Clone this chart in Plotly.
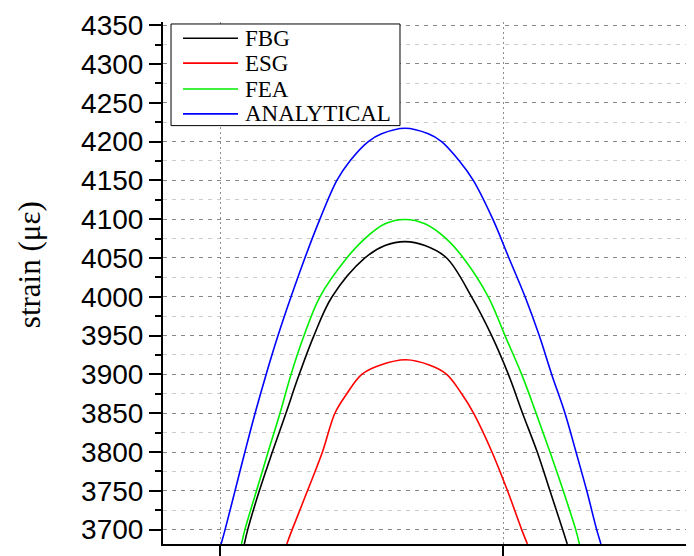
import plotly.graph_objects as go

# ---- data (x in tick units: the two x ticks are 1 and 2) ----
fbg_x = [1.086, 1.098, 1.139, 1.185, 1.233, 1.275, 1.332, 1.396, 1.512, 1.583, 1.654,
         1.724, 1.801, 1.889, 1.960, 2.019, 2.069, 2.121, 2.166, 2.211, 2.227]
fbg_y = [3681.6, 3700, 3750, 3800, 3850, 3895, 3950, 4000, 4050, 4066, 4071,
         4066, 4050, 4000, 3950, 3900, 3850, 3800, 3750, 3700, 3681.6]

esg_x = [1.236, 1.255, 1.309, 1.362, 1.406, 1.448, 1.501, 1.565, 1.657,
         1.742, 1.801, 1.854, 1.896, 1.961, 2.016, 2.066, 2.086]
esg_y = [3681.6, 3700, 3750, 3800, 3850, 3875, 3900, 3911.7, 3918.8,
         3911.7, 3900, 3875, 3850, 3800, 3750, 3700, 3681.6]

fea_x = [1.076, 1.088, 1.129, 1.170, 1.212, 1.251, 1.297, 1.353, 1.448, 1.512, 1.583, 1.654,
         1.724, 1.799, 1.860, 1.948, 2.007, 2.066, 2.117, 2.166, 2.213, 2.257, 2.270]
fea_y = [3681.6, 3700, 3750, 3800, 3850, 3900, 3950, 4000, 4050, 4075, 4094, 4099.6,
         4094, 4075, 4050, 4000, 3950, 3900, 3850, 3800, 3750, 3700, 3681.6]

ana_x = [1.004, 1.018, 1.053, 1.088, 1.124, 1.163, 1.205, 1.251, 1.300, 1.353, 1.413, 1.459, 1.524, 1.571, 1.654,
         1.736, 1.783, 1.846, 1.895, 1.964, 2.021, 2.078, 2.128, 2.172, 2.219, 2.258, 2.296, 2.331, 2.346]
ana_y = [3681.6, 3700, 3750, 3800, 3850, 3900, 3950, 4000, 4050, 4100, 4150, 4175, 4200, 4210, 4217.2,
         4210, 4200, 4175, 4150, 4100, 4050, 4000, 3950, 3900, 3850, 3800, 3750, 3700, 3681.6]

series_names = ["FBG", "ESG", "FEA", "ANALYTICAL"]
series_colors = ["#000000", "#ff0000", "#00ee00", "#0000ff"]

x_ticks = [1, 2]
y_ticks = list(range(3700, 4351, 50))

SERIF = "Liberation Serif, Times New Roman, serif"

fig = go.Figure()
for name, color, xs, ys in zip(series_names, series_colors,
                               [fbg_x, esg_x, fea_x, ana_x],
                               [fbg_y, esg_y, fea_y, ana_y]):
    fig.add_trace(go.Scatter(x=xs, y=ys, mode="lines", name=name, showlegend=False,
                             line=dict(color=color, width=1.6, shape="spline", smoothing=1.0)))

# page body has an 8px margin -> shrink figure so the plot lands at the reference position
fig.update_layout(
    width=686, height=548,
    margin=dict(l=155, r=0, t=14, b=10),
    paper_bgcolor="white", plot_bgcolor="white",
    showlegend=False,
)

fig.update_xaxes(
    range=[0.7986, 2.6749], tickvals=x_ticks, showticklabels=False,
    ticks="outside", ticklen=12, tickwidth=2, tickcolor="black",
    showline=True, linecolor="black", linewidth=2,
    showgrid=True, gridcolor="#8c8c8c", gridwidth=1, griddash="2px,3px",
    zeroline=False,
)

fig.update_yaxes(
    range=[3681.5, 4354], tickvals=y_ticks,
    ticks="outside", ticklen=12, tickwidth=2, tickcolor="black",
    tickfont=dict(family="Liberation Sans, Arial, sans-serif", size=28, color="black"),
    showline=True, linecolor="black", linewidth=2,
    showgrid=True, gridcolor="#888888", gridwidth=1, griddash="4px,5px",
    minor=dict(dtick=25, tick0=3675, ticks="outside", ticklen=6, tickwidth=2, tickcolor="black",
               showgrid=True, gridcolor="#cccccc", gridwidth=1, griddash="4px,5px"),
    zeroline=False,
)

# ---- legend box (drawn to match the reference's compact row spacing) ----
leg_x0, leg_x1, leg_y0, leg_y1 = 0.0151, 0.4463, 0.8015, 0.9962
line_x0, line_x1, text_x = 0.0377, 0.1412, 0.1507
row_y = [0.9689, 0.9212, 0.8716, 0.8239]
fig.add_shape(type="rect", xref="paper", yref="paper", x0=leg_x0, x1=leg_x1, y0=leg_y0, y1=leg_y1,
              fillcolor="white", line=dict(color="black", width=1), layer="above")
for name, color, ry in zip(series_names, series_colors, row_y):
    fig.add_shape(type="line", xref="paper", yref="paper", x0=line_x0, x1=line_x1, y0=ry, y1=ry,
                  line=dict(color=color, width=1.6), layer="above")
    fig.add_annotation(text=name, xref="paper", yref="paper", x=text_x, y=ry,
                       xanchor="left", yanchor="middle", showarrow=False,
                       font=dict(family=SERIF, size=23, color="black"))

fig.add_annotation(
    text="strain (\u03bc\u03b5)", textangle=-90,
    xref="paper", yref="paper", x=-0.2524, y=0.536,
    xanchor="center", yanchor="middle", showarrow=False,
    font=dict(family=SERIF, size=31, color="black"),
)

fig.write_html("out.html")
